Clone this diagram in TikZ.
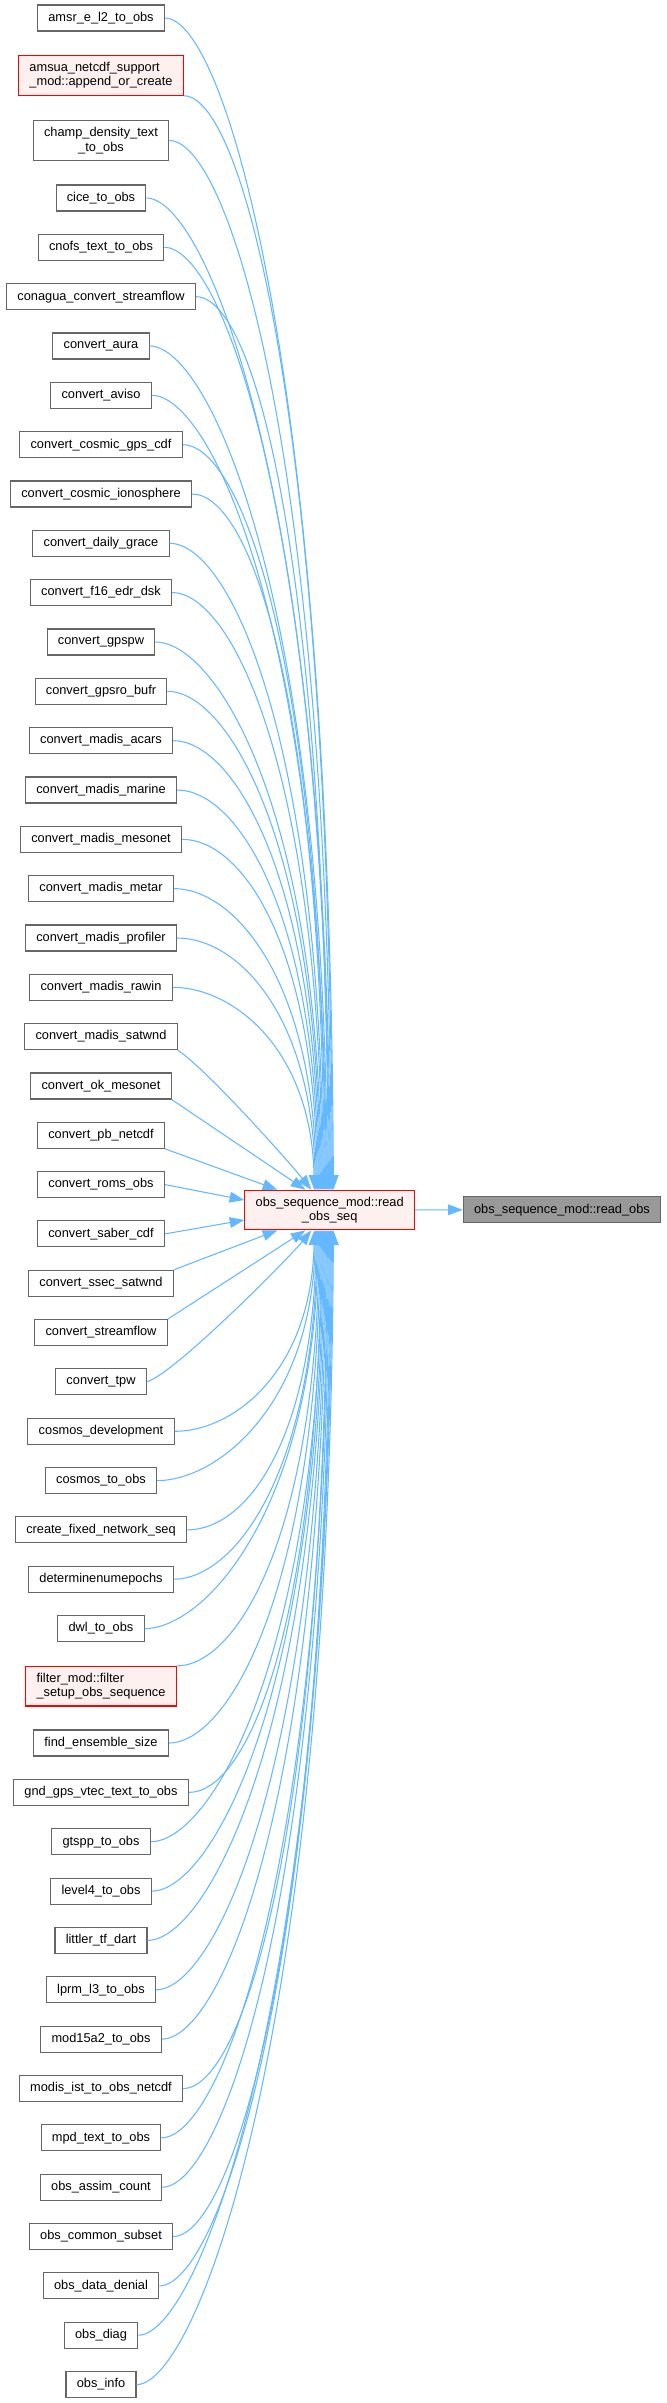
\documentclass[tikz,border=0pt]{standalone}
\usepackage{fontspec}
\setmainfont{Liberation Sans}
\usetikzlibrary{arrows.meta,calc}

\definecolor{edgeblue}{HTML}{63B8FF}
\definecolor{boxgrey}{HTML}{666666}
\definecolor{hitfill}{HTML}{FFF0F0}
\definecolor{leaffill}{HTML}{999999}

\begin{document}
\begin{tikzpicture}[x=0.75pt,y=-0.75pt,
  fnbox/.style={draw=boxgrey, fill=white, line width=0.8pt, inner xsep=8.1pt, inner ysep=5pt,
    minimum height=19.5pt, font=\fontsize{9.6}{10.7}\selectfont},
  hitbox/.style={fnbox, draw=red, fill=hitfill},
  leafbox/.style={fnbox, fill=leaffill},
  calls/.style={draw=edgeblue, line width=0.8pt, -{Triangle[length=11pt,width=8pt]}}]
\useasboundingbox (0,0) rectangle (667,2403);

% callers, top to bottom
\node[fnbox] (amsr) at (101,18) {amsr\_e\_l2\_to\_obs};
\node[hitbox, align=left] (amsua) at (101,75.5) {amsua\_netcdf\_support\\\_mod::append\_or\_create};
\node[fnbox, align=center] (champ) at (101,140.5) {champ\_density\_text\\\_to\_obs};
\node[fnbox] (cice) at (101,198) {cice\_to\_obs};
\node[fnbox] (cnofs) at (101,247.3) {cnofs\_text\_to\_obs};
\node[fnbox] (conagua) at (101,296.7) {conagua\_convert\_streamflow};
\node[fnbox] (aura) at (101,346) {convert\_aura};
\node[fnbox] (aviso) at (101,395.3) {convert\_aviso};
\node[fnbox] (cosmicgps) at (101,444.7) {convert\_cosmic\_gps\_cdf};
\node[fnbox] (cosmicion) at (101,494) {convert\_cosmic\_ionosphere};
\node[fnbox] (grace) at (101,543.3) {convert\_daily\_grace};
\node[fnbox] (edrdsk) at (101,592.6) {convert\_f16\_edr\_dsk};
\node[fnbox] (gpspw) at (101,642) {convert\_gpspw};
\node[fnbox] (gpsro) at (101,691.3) {convert\_gpsro\_bufr};
\node[fnbox] (acars) at (101,740.6) {convert\_madis\_acars};
\node[fnbox] (marine) at (101,790) {convert\_madis\_marine};
\node[fnbox] (mesonet) at (101,839.3) {convert\_madis\_mesonet};
\node[fnbox] (metar) at (101,888.6) {convert\_madis\_metar};
\node[fnbox] (profiler) at (101,938) {convert\_madis\_profiler};
\node[fnbox] (rawin) at (101,987.3) {convert\_madis\_rawin};
\node[fnbox] (madsatwnd) at (101,1036.6) {convert\_madis\_satwnd};
\node[fnbox] (okmeso) at (101,1086) {convert\_ok\_mesonet};
\node[fnbox] (pbnc) at (101,1135.3) {convert\_pb\_netcdf};
\node[fnbox] (roms) at (101,1184.6) {convert\_roms\_obs};
\node[fnbox] (saber) at (101,1233.9) {convert\_saber\_cdf};
\node[fnbox] (ssec) at (101,1283.3) {convert\_ssec\_satwnd};
\node[fnbox] (stream) at (101,1332.6) {convert\_streamflow};
\node[fnbox] (tpw) at (101,1381.9) {convert\_tpw};
\node[fnbox] (cosmosdev) at (101,1431.3) {cosmos\_development};
\node[fnbox] (cosmos) at (101,1480.6) {cosmos\_to\_obs};
\node[fnbox] (fixednet) at (101,1529.9) {create\_fixed\_network\_seq};
\node[fnbox] (epochs) at (101,1579.2) {determinenumepochs};
\node[fnbox] (dwl) at (101,1628.6) {dwl\_to\_obs};
\node[hitbox, align=left] (filter) at (101,1686.2) {filter\_mod::filter\\\_setup\_obs\_sequence};
\node[fnbox] (ensize) at (101,1743) {find\_ensemble\_size};
\node[fnbox] (vtec) at (101,1792.4) {gnd\_gps\_vtec\_text\_to\_obs};
\node[fnbox] (gtspp) at (101,1841.7) {gtspp\_to\_obs};
\node[fnbox] (level4) at (101,1891.1) {level4\_to\_obs};
\node[fnbox] (littler) at (101,1940.4) {littler\_tf\_dart};
\node[fnbox] (lprm) at (101,1989.8) {lprm\_l3\_to\_obs};
\node[fnbox] (modis15) at (101,2039.1) {mod15a2\_to\_obs};
\node[fnbox] (modisist) at (101,2088.5) {modis\_ist\_to\_obs\_netcdf};
\node[fnbox] (mpd) at (101,2137.8) {mpd\_text\_to\_obs};
\node[fnbox] (assim) at (101,2187.2) {obs\_assim\_count};
\node[fnbox] (common) at (101,2236.5) {obs\_common\_subset};
\node[fnbox] (denial) at (101,2285.9) {obs\_data\_denial};
\node[fnbox] (diag) at (101,2335.2) {obs\_diag};
\node[fnbox] (info) at (101,2384.6) {obs\_info};

% the routine and its callee
\node[hitbox, align=center] (readseq) at (329.7,1210) {obs\_sequence\_mod::read\\\_obs\_seq};
\node[leafbox] (readobs) at (562,1209.7) {obs\_sequence\_mod::read\_obs};

\draw[calls] (readseq) -- (readobs);

% edges from above
\draw[calls] (amsr.east) .. controls +(60,0) and +(-3,-820) .. ($(readseq.north west)+(89,0)$);
\draw[calls] (amsua.south east) .. controls +(60,0) and +(-3,-765) .. ($(readseq.north west)+(88,0)$);
\draw[calls] (champ.east) .. controls +(60,0) and +(-3,-734) .. ($(readseq.north west)+(87,0)$);
\draw[calls] (cice.east) .. controls +(60,0) and +(-3,-694) .. ($(readseq.north west)+(86,0)$);
\draw[calls] (cnofs.east) .. controls +(60,0) and +(-3,-659) .. ($(readseq.north west)+(85,0)$);
\draw[calls] (conagua.east) .. controls +(60,0) and +(-3,-625) .. ($(readseq.north west)+(84,0)$);
\draw[calls] (aura.east) .. controls +(60,0) and +(-3,-590) .. ($(readseq.north west)+(83,0)$);
\draw[calls] (aviso.east) .. controls +(60,0) and +(-3,-556) .. ($(readseq.north west)+(82,0)$);
\draw[calls] (cosmicgps.east) .. controls +(60,0) and +(-3,-521) .. ($(readseq.north west)+(81,0)$);
\draw[calls] (cosmicion.east) .. controls +(60,0) and +(-3,-487) .. ($(readseq.north west)+(80,0)$);
\draw[calls] (grace.east) .. controls +(60,0) and +(-3,-452) .. ($(readseq.north west)+(79,0)$);
\draw[calls] (edrdsk.east) .. controls +(60,0) and +(-3,-418) .. ($(readseq.north west)+(78,0)$);
\draw[calls] (gpspw.east) .. controls +(60,0) and +(-3,-383) .. ($(readseq.north west)+(77,0)$);
\draw[calls] (gpsro.east) .. controls +(60,0) and +(-3,-349) .. ($(readseq.north west)+(76,0)$);
\draw[calls] (acars.east) .. controls +(60,0) and +(-3,-314) .. ($(readseq.north west)+(75,0)$);
\draw[calls] (marine.east) .. controls +(60,0) and +(-3,-279) .. ($(readseq.north west)+(74,0)$);
\draw[calls] (mesonet.east) .. controls +(60,0) and +(-3,-245) .. ($(readseq.north west)+(73,0)$);
\draw[calls] (metar.east) .. controls +(60,0) and +(-3,-211) .. ($(readseq.north west)+(72,0)$);
\draw[calls] (profiler.east) .. controls +(60,0) and +(-3,-176) .. ($(readseq.north west)+(71,0)$);
\draw[calls] (rawin.east) .. controls +(60,0) and +(-3,-141) .. ($(readseq.north west)+(70,0)$);
\draw[calls] (madsatwnd.south east) .. controls +(30,20) and +(-20,-25) .. ($(readseq.north west)+(67,0)$);
\draw[calls] (okmeso.south east) -- ($(readseq.north west)+(61,0)$);
\draw[calls] (pbnc.south east) -- ($(readseq.north west)+(33,0)$);

% edges from the side
\draw[calls] (roms.east) -- ($(readseq.west)+(0,-10)$);
\draw[calls] (saber.east) -- ($(readseq.west)+(0,10)$);

% edges from below
\draw[calls] (ssec.north east) -- ($(readseq.south west)+(33,0)$);
\draw[calls] (stream.north east) -- ($(readseq.south west)+(61,0)$);
\draw[calls] (tpw.east) .. controls +(30,-10) and +(-20,25) .. ($(readseq.south west)+(67,0)$);
\draw[calls] (cosmosdev.east) .. controls +(60,0) and +(-3,140) .. ($(readseq.south west)+(70,0)$);
\draw[calls] (cosmos.east) .. controls +(60,0) and +(-3,175) .. ($(readseq.south west)+(71,0)$);
\draw[calls] (fixednet.east) .. controls +(60,0) and +(-3,209) .. ($(readseq.south west)+(72,0)$);
\draw[calls] (epochs.east) .. controls +(60,0) and +(-3,244) .. ($(readseq.south west)+(73,0)$);
\draw[calls] (dwl.east) .. controls +(60,0) and +(-3,279) .. ($(readseq.south west)+(74,0)$);
\draw[calls] (filter.north east) .. controls +(60,0) and +(-3,305) .. ($(readseq.south west)+(75,0)$);
\draw[calls] (ensize.east) .. controls +(60,0) and +(-3,358) .. ($(readseq.south west)+(76,0)$);
\draw[calls] (vtec.east) .. controls +(60,0) and +(-3,393) .. ($(readseq.south west)+(77,0)$);
\draw[calls] (gtspp.east) .. controls +(60,0) and +(-3,428) .. ($(readseq.south west)+(78,0)$);
\draw[calls] (level4.east) .. controls +(60,0) and +(-3,462) .. ($(readseq.south west)+(79,0)$);
\draw[calls] (littler.east) .. controls +(60,0) and +(-3,497) .. ($(readseq.south west)+(80,0)$);
\draw[calls] (lprm.east) .. controls +(60,0) and +(-3,531) .. ($(readseq.south west)+(81,0)$);
\draw[calls] (modis15.east) .. controls +(60,0) and +(-3,566) .. ($(readseq.south west)+(82,0)$);
\draw[calls] (modisist.east) .. controls +(60,0) and +(-3,601) .. ($(readseq.south west)+(83,0)$);
\draw[calls] (mpd.east) .. controls +(60,0) and +(-3,635) .. ($(readseq.south west)+(84,0)$);
\draw[calls] (assim.east) .. controls +(60,0) and +(-3,669) .. ($(readseq.south west)+(85,0)$);
\draw[calls] (common.east) .. controls +(60,0) and +(-3,704) .. ($(readseq.south west)+(86,0)$);
\draw[calls] (denial.east) .. controls +(60,0) and +(-3,739) .. ($(readseq.south west)+(87,0)$);
\draw[calls] (diag.east) .. controls +(60,0) and +(-3,773) .. ($(readseq.south west)+(88,0)$);
\draw[calls] (info.east) .. controls +(60,0) and +(-3,808) .. ($(readseq.south west)+(89,0)$);
\end{tikzpicture}
\end{document}
